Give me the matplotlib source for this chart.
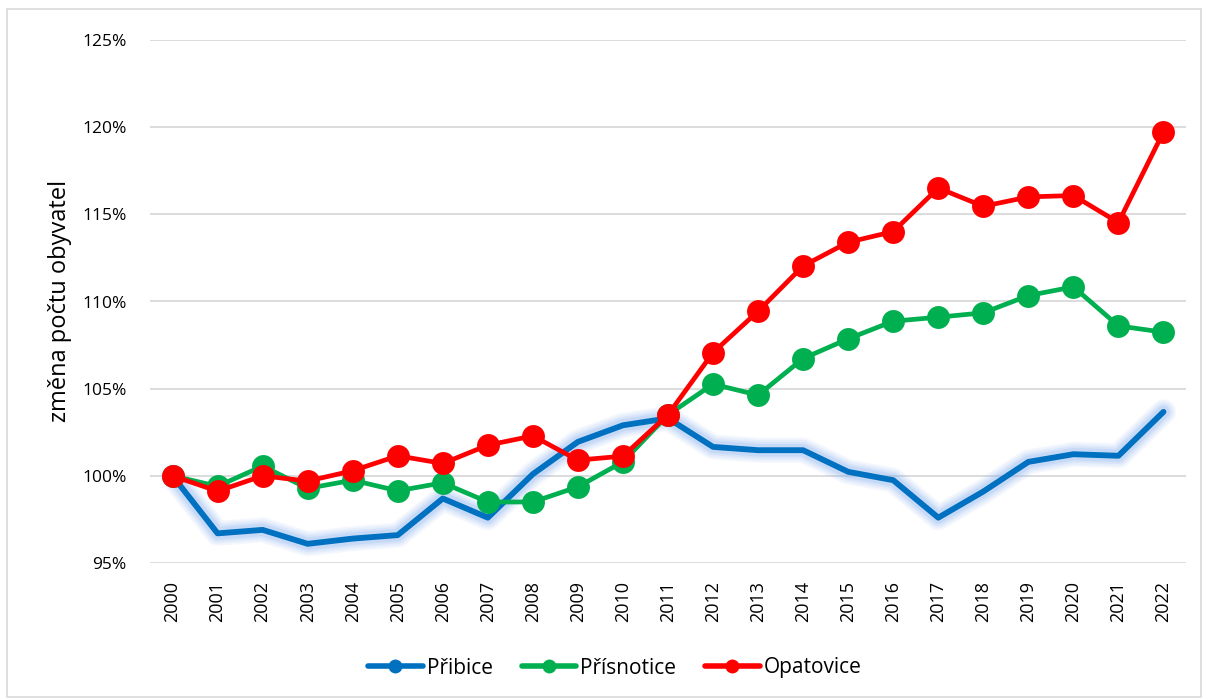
import matplotlib
matplotlib.use("Agg")
import matplotlib.pyplot as plt
import matplotlib.patches as patches
import matplotlib.ticker as mticker
from matplotlib.lines import Line2D

years = list(range(2000, 2023))

pribice = [100.0, 96.7, 96.9, 96.1, 96.4, 96.6, 98.7, 97.6, 100.1, 101.95, 102.9, 103.3,
           101.66, 101.47, 101.47, 100.23, 99.75, 97.6, 99.1, 100.8, 101.24, 101.15, 103.67]
prisnotice = [100.0, 99.4, 100.56, 99.28, 99.75, 99.14, 99.6, 98.5, 98.5, 99.37, 100.8, 103.5,
              105.26, 104.63, 106.73, 107.86, 108.87, 109.1, 109.35, 110.34, 110.84, 108.6, 108.24]
opatovice = [100.0, 99.12, 100.0, 99.7, 100.29, 101.15, 100.71, 101.76, 102.29, 100.9, 101.13, 103.5,
             107.07, 109.44, 112.04, 113.4, 114.01, 116.51, 115.46, 116.0, 116.08, 114.53, 119.73]

series_names = ["Přibice", "Přísnotice", "Opatovice"]
series_colors = ["#0070C0", "#00B050", "#FF0000"]

y_ticks = [95, 100, 105, 110, 115, 120, 125]

plt.rcParams["font.family"] = ["Open Sans", "DejaVu Sans"]

fig = plt.figure(figsize=(12.06, 6.99), dpi=100)
ax = fig.add_axes([150 / 1206, 1 - 563 / 699, 1036 / 1206, 523 / 699])

x = list(range(len(years)))

# glow around the blue line
for lw, alpha in [(18, 0.10), (15, 0.12), (12, 0.16), (9, 0.22)]:
    ax.plot(x, pribice, color="#8DB4F2", lw=lw, alpha=alpha, solid_capstyle="round",
            solid_joinstyle="round", zorder=2)
ax.plot(x, pribice, color=series_colors[0], lw=4.2, solid_capstyle="round", zorder=3)

ax.plot(x, prisnotice, color=series_colors[1], lw=3.4, marker="o", markersize=16.5,
        markeredgewidth=0, zorder=4)
ax.plot(x, opatovice, color=series_colors[2], lw=3.4, marker="o", markersize=16.5,
        markeredgewidth=0, zorder=5)

ax.set_xlim(-0.5, len(years) - 0.5)
ax.set_ylim(95, 125)
ax.set_yticks(y_ticks)
ax.yaxis.set_major_formatter(mticker.FuncFormatter(lambda v, p: f"{v:.0f}%"))
ax.set_xticks(x)
ax.set_xticklabels([str(y) for y in years], rotation=90, fontsize=13, color="#000000")
ax.tick_params(axis="y", length=0, pad=17, labelsize=12.5, labelcolor="#000000")
ax.tick_params(axis="x", length=0, pad=13)
ax.grid(axis="y", color="#D9D9D9", lw=1.3, zorder=0)
ax.set_axisbelow(True)
for s in ax.spines.values():
    s.set_visible(False)

fig.text(60 / 1206, 1 - 301 / 699, "změna počtu obyvatel", rotation=90, fontsize=17,
         ha="center", va="center")

handles = [Line2D([], [], color=c, lw=4, marker="o", markersize=9, solid_capstyle="round")
           for c in series_colors]
fig.legend(handles, series_names, loc="center", bbox_to_anchor=(615 / 1206, 1 - 668 / 699),
           ncol=3, frameon=False, fontsize=15, handlelength=2.6, handletextpad=0.2,
           columnspacing=1.4)

fig.add_artist(patches.Rectangle((7 / 1206, 2 / 699), 1194 / 1206, 688 / 699,
                                 transform=fig.transFigure, fill=False,
                                 edgecolor="#D9D9D9", lw=1.2))

fig.savefig("out.png", dpi=100)
